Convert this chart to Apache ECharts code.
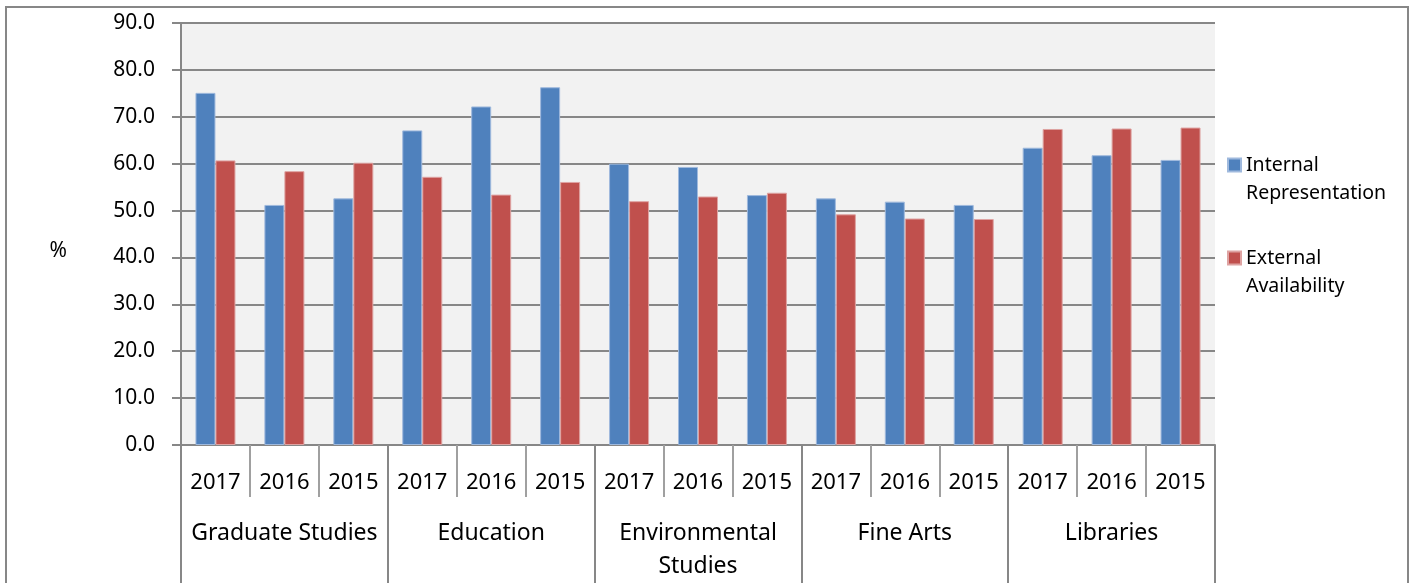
<!DOCTYPE html>
<html>
<head>
<meta charset="utf-8">
<script src="https://cdn.jsdelivr.net/npm/echarts@6/dist/echarts.min.js"></script>
<style>
html, body { margin: 0; padding: 0; background: #fff; }
#chart { width: 1413px; height: 583px; }
</style>
</head>
<body>
<div id="chart"></div>
<script>
// year labels, one per bar pair
var years = ['2017', '2016', '2015', '2017', '2016', '2015', '2017', '2016', '2015',
	'2017', '2016', '2015', '2017', '2016', '2015'];
// faculty groups, three years each
var groups = ['Graduate Studies', 'Education', 'Environmental\nStudies', 'Fine Arts', 'Libraries'];
var internalRep = [75.1, 51.2, 52.6, 67.1, 72.2, 76.3, 60.0, 59.3, 53.3, 52.6, 51.9, 51.2, 63.4, 61.8, 60.8];
var externalAvail = [60.7, 58.4, 60.2, 57.2, 53.4, 56.1, 52.0, 53.0, 53.8, 49.2, 48.3, 48.2, 67.4, 67.5, 67.7];
var yTicks = [0, 90, 10]; // min, max, interval

var font = '"Noto Sans", sans-serif';
var axisGrey = '#878787';

var option = {
	animation : false,
	textStyle : { fontFamily : font, color : '#000' },
	grid : {
		left : 181,
		right : 198,
		top : 23,
		bottom : 135,
		show : true,
		backgroundColor : '#f2f2f2',
		borderWidth : 0
	},
	legend : {
		orient : 'vertical',
		left : 1222,
		top : 118,
		itemWidth : 13,
		itemHeight : 13,
		itemGap : 9,
		icon : 'rect',
		data : ['Internal Representation', 'External Availability'],
		// blank first line so the square sits beside the first word
		formatter : function(name) {
			return ' \n' + name.replace(' ', '\n');
		},
		textStyle : {
			fontFamily : font,
			fontSize : 19.5,
			lineHeight : 28,
			color : '#000'
		}
	},
	xAxis : [ {
		type : 'category',
		data : years,
		position : 'bottom',
		axisLine : { show : true, lineStyle : { color : axisGrey, width : 2 } },
		axisTick : { show : true, interval : 0, length : 52, lineStyle : { color : '#a0a0a0', width : 2 } },
		axisLabel : { interval : 0, margin : 27, fontSize : 22, lineHeight : 22, color : '#000', fontFamily : font }
	}, {
		type : 'category',
		data : groups,
		position : 'bottom',
		axisLine : { show : false },
		axisTick : { show : true, interval : 0, length : 140, lineStyle : { color : axisGrey, width : 2 } },
		axisLabel : { interval : 0, margin : 72, fontSize : 23, lineHeight : 33, color : '#000', fontFamily : font }
	} ],
	yAxis : {
		type : 'value',
		min : yTicks[0],
		max : yTicks[1],
		interval : yTicks[2],
		// leading blank line moves the % sign a little below the middle
		name : ' \n%',
		nameLocation : 'middle',
		nameRotate : 0,
		nameGap : 114,
		nameTextStyle : { fontSize : 21, lineHeight : 34, color : '#000', fontFamily : font },
		axisLine : { show : true, lineStyle : { color : axisGrey, width : 2 } },
		axisTick : { show : true, length : 9, lineStyle : { color : axisGrey, width : 2 } },
		axisLabel : {
			fontSize : 21,
			margin : 26,
			color : '#000',
			fontFamily : font,
			formatter : function(v) { return v.toFixed(1); }
		},
		splitLine : { show : true, lineStyle : { color : axisGrey, width : 2 } }
	},
	series : [ {
		name : 'Internal Representation',
		type : 'bar',
		xAxisIndex : 0,
		barWidth : 20,
		barGap : '0%',
		itemStyle : { color : '#4f81bd', borderColor : '#9fb9dd', borderWidth : 1 },
		data : internalRep
	}, {
		name : 'External Availability',
		type : 'bar',
		xAxisIndex : 0,
		barWidth : 20,
		barGap : '0%',
		itemStyle : { color : '#c0504d', borderColor : '#dea3a2', borderWidth : 1 },
		data : externalAvail
	} ],
	graphic : [ {
		type : 'rect',
		shape : { x : 6, y : 7, width : 1402, height : 620 },
		style : { fill : 'none', stroke : axisGrey, lineWidth : 2 },
		z : -1
	} ]
};

var myChart = echarts.init(document.getElementById('chart'));
myChart.setOption(option);
</script>
</body>
</html>
